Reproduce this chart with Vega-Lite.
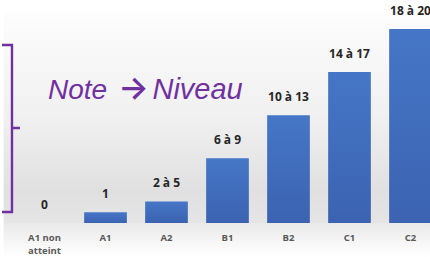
{
  "$schema": "https://vega.github.io/schema/vega-lite/v6.json",
  "width": 427,
  "height": 257,
  "autosize": {"type": "none"},
  "padding": {"left": 14, "top": 0, "right": 0, "bottom": 0},
  "background": "white",
  "config": {"view": {"stroke": null}},
  "datasets": {
    "bars": [
      {"level": "A1 non atteint", "tick": "A1 non|atteint", "value": 0, "label": "0"},
      {"level": "A1", "tick": "A1", "value": 1, "label": "1"},
      {"level": "A2", "tick": "A2", "value": 2, "label": "2 à 5"},
      {"level": "B1", "tick": "B1", "value": 6, "label": "6 à 9"},
      {"level": "B2", "tick": "B2", "value": 10, "label": "10 à 13"},
      {"level": "C1", "tick": "C1", "value": 14, "label": "14 à 17"},
      {"level": "C2", "tick": "C2", "value": 18, "label": "18 à 20"}
    ],
    "bracket": [
      {"i": 1, "px": -0.197, "py": 16.51},
      {"i": 2, "px": -0.033, "py": 16.51},
      {"i": 3, "px": -0.033, "py": 8.81},
      {"i": 4, "px": 0.098, "py": 8.81},
      {"i": 5, "px": -0.033, "py": 8.81},
      {"i": 6, "px": -0.033, "py": 1.02},
      {"i": 7, "px": -0.197, "py": 1.02}
    ],
    "note": [{"a": "Note", "b": "→", "c": "Niveau"}]
  },
  "layer": [
    {
      "data": {"name": "note"},
      "mark": {"type": "rect", "color": {"gradient": "linear", "x1": 0, "y1": 0, "x2": 0, "y2": 1, "stops": [
        {"offset": 0, "color": "#fdfdfd"},
        {"offset": 0.5, "color": "#f0f0f0"},
        {"offset": 0.85, "color": "#e0e0e0"},
        {"offset": 1, "color": "#e5e5e5"}
      ]}},
      "encoding": {
        "x": {"datum": -0.17, "type": "quantitative", "scale": {"domain": [0, 7], "nice": false, "zero": false}, "axis": null},
        "x2": {"datum": 7.2},
        "y": {"datum": 19.57, "type": "quantitative", "scale": {"domain": [-3.154, 20.686], "nice": false, "zero": false}, "axis": null},
        "y2": {"datum": 0}
      }
    },
    {
      "data": {"name": "note"},
      "mark": {"type": "rect", "color": {"gradient": "linear", "x1": 0, "y1": 0, "x2": 0, "y2": 1, "stops": [
        {"offset": 0, "color": "#e9e9e9"},
        {"offset": 0.6, "color": "#f7f7f7"},
        {"offset": 1, "color": "#ffffff"}
      ]}},
      "encoding": {
        "x": {"datum": -0.17, "type": "quantitative", "scale": {"domain": [0, 7], "nice": false, "zero": false}, "axis": null},
        "x2": {"datum": 7.2},
        "y": {"datum": 0, "type": "quantitative", "scale": {"domain": [-3.154, 20.686], "nice": false, "zero": false}, "axis": null},
        "y2": {"datum": -3.154}
      }
    },
    {
      "data": {"name": "bracket"},
      "mark": {"type": "line", "color": "#7030A0", "strokeWidth": 2.4, "strokeJoin": "miter", "strokeCap": "butt"},
      "encoding": {
        "x": {"field": "px", "type": "quantitative", "scale": {"domain": [0, 7], "nice": false, "zero": false}, "axis": null},
        "y": {"field": "py", "type": "quantitative", "scale": {"domain": [-3.154, 20.686], "nice": false, "zero": false}, "axis": null},
        "order": {"field": "i"}
      }
    },
    {
      "data": {"name": "note"},
      "mark": {"type": "text", "align": "left", "baseline": "alphabetic", "font": "Liberation Sans", "fontStyle": "italic", "fontSize": 28, "color": "#7030A0"},
      "encoding": {
        "x": {"datum": 0.557, "type": "quantitative", "scale": {"domain": [0, 7], "nice": false, "zero": false}, "axis": null},
        "y": {"datum": 11.5, "type": "quantitative", "scale": {"domain": [-3.154, 20.686], "nice": false, "zero": false}, "axis": null},
        "text": {"field": "a"}
      }
    },
    {
      "data": {"name": "note"},
      "mark": {"type": "text", "align": "center", "baseline": "middle", "font": "Inter", "fontWeight": 600, "fontSize": 32, "color": "#7030A0"},
      "encoding": {
        "x": {"datum": 1.96, "type": "quantitative", "scale": {"domain": [0, 7], "nice": false, "zero": false}, "axis": null},
        "y": {"datum": 12.4, "type": "quantitative", "scale": {"domain": [-3.154, 20.686], "nice": false, "zero": false}, "axis": null},
        "text": {"field": "b"}
      }
    },
    {
      "data": {"name": "note"},
      "mark": {"type": "text", "align": "left", "baseline": "alphabetic", "font": "Liberation Sans", "fontStyle": "italic", "fontSize": 29, "color": "#7030A0"},
      "encoding": {
        "x": {"datum": 2.27, "type": "quantitative", "scale": {"domain": [0, 7], "nice": false, "zero": false}, "axis": null},
        "y": {"datum": 11.5, "type": "quantitative", "scale": {"domain": [-3.154, 20.686], "nice": false, "zero": false}, "axis": null},
        "text": {"field": "c"}
      }
    },
    {
      "data": {"name": "bars"},
      "encoding": {
        "x": {"field": "level", "type": "nominal", "sort": null, "scale": {"type": "band", "paddingInner": 0.3, "paddingOuter": 0.15}, "axis": null}
      },
      "layer": [
        {
          "mark": {"type": "bar", "color": {"gradient": "linear", "x1": 0, "y1": 0, "x2": 0, "y2": 1, "stops": [
            {"offset": 0, "color": "#4676c7"},
            {"offset": 1, "color": "#3b63b1"}
          ]}},
          "encoding": {
            "y": {"field": "value", "type": "quantitative", "scale": {"domain": [-3.154, 20.686], "nice": false, "zero": false}, "axis": null},
            "y2": {"datum": 0}
          }
        },
        {
          "mark": {"type": "text", "baseline": "alphabetic", "dy": -14, "font": "Open Sans", "fontWeight": "bold", "fontSize": 12, "color": "#262626"},
          "encoding": {
            "y": {"field": "value", "type": "quantitative"},
            "text": {"field": "label"}
          }
        },
        {
          "mark": {"type": "text", "baseline": "top", "lineBreak": "|", "lineHeight": 13, "font": "Open Sans", "fontWeight": "bold", "fontSize": 9.5, "color": "#595959"},
          "encoding": {
            "y": {"datum": -0.93, "type": "quantitative"},
            "text": {"field": "tick"}
          }
        }
      ]
    }
  ],
  "resolve": {"scale": {"x": "independent"}}
}
